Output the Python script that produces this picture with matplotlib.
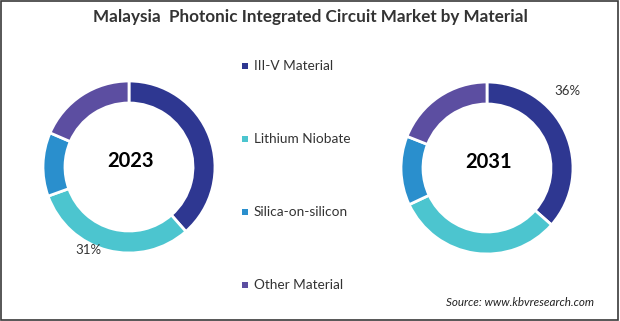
import matplotlib
matplotlib.use('Agg')
from matplotlib import pyplot as plt
from matplotlib.patches import Rectangle

plt.rcParams['font.family'] = ['Lato', 'DejaVu Sans']

materials = ['III-V Material', 'Lithium Niobate', 'Silica-on-silicon', 'Other Material']
colors = ['#2e3791', '#4cc5cf', '#2a8fcd', '#5c4ea1']
share_2023 = [38.5, 31.0, 12.0, 18.5]
share_2031 = [36.5, 31.5, 13.0, 19.0]

H = 321
fig = plt.figure(figsize=(6.2, 3.21), dpi=100)
ax = fig.add_axes([0, 0, 1, 1])


def donut(values, cx, cy, year, label_idx, label_xy):
    ax.pie(values, colors=colors, startangle=90, counterclock=False,
           center=(cx, H - cy), radius=86,
           wedgeprops=dict(width=22, edgecolor='white', linewidth=2))
    ax.text(cx + 2, H - cy + 6, year, ha='center', va='center',
            fontsize=14.5, fontweight='bold', color='black')
    ax.text(label_xy[0], H - label_xy[1], '{:.0f}%'.format(values[label_idx]),
            ha='center', va='center', fontsize=9.5, color='#333333')


donut(share_2023, 129, 167, '2023', 1, (88, 250))
donut(share_2031, 487, 168, '2031', 0, (567, 91))

# legend in the middle
for i, (name, c) in enumerate(zip(materials, colors)):
    y = H - (66 + i * 73)
    ax.scatter([245], [y], marker='s', s=24, color=c, linewidths=0)
    ax.text(254, y, name, ha='left', va='center', fontsize=9.8, color='#333333')

ax.text(310, H - 17, 'Malaysia  Photonic Integrated Circuit Market by Material',
        ha='center', va='center', fontsize=12.3, fontweight='bold', color='#333333')
ax.text(594, H - 302, 'Source: www.kbvresearch.com', ha='right', va='center',
        fontsize=8.4, style='italic', color='#222222')

ax.set_xlim(0, 620)
ax.set_ylim(0, H)
ax.set_aspect('auto')
ax.axis('off')

fig.patches.append(Rectangle((0.002, 0.003), 0.995, 0.994, transform=fig.transFigure,
                             fill=False, edgecolor='#3a3a3a', linewidth=1.2))

plt.savefig('out.png', dpi=100)
